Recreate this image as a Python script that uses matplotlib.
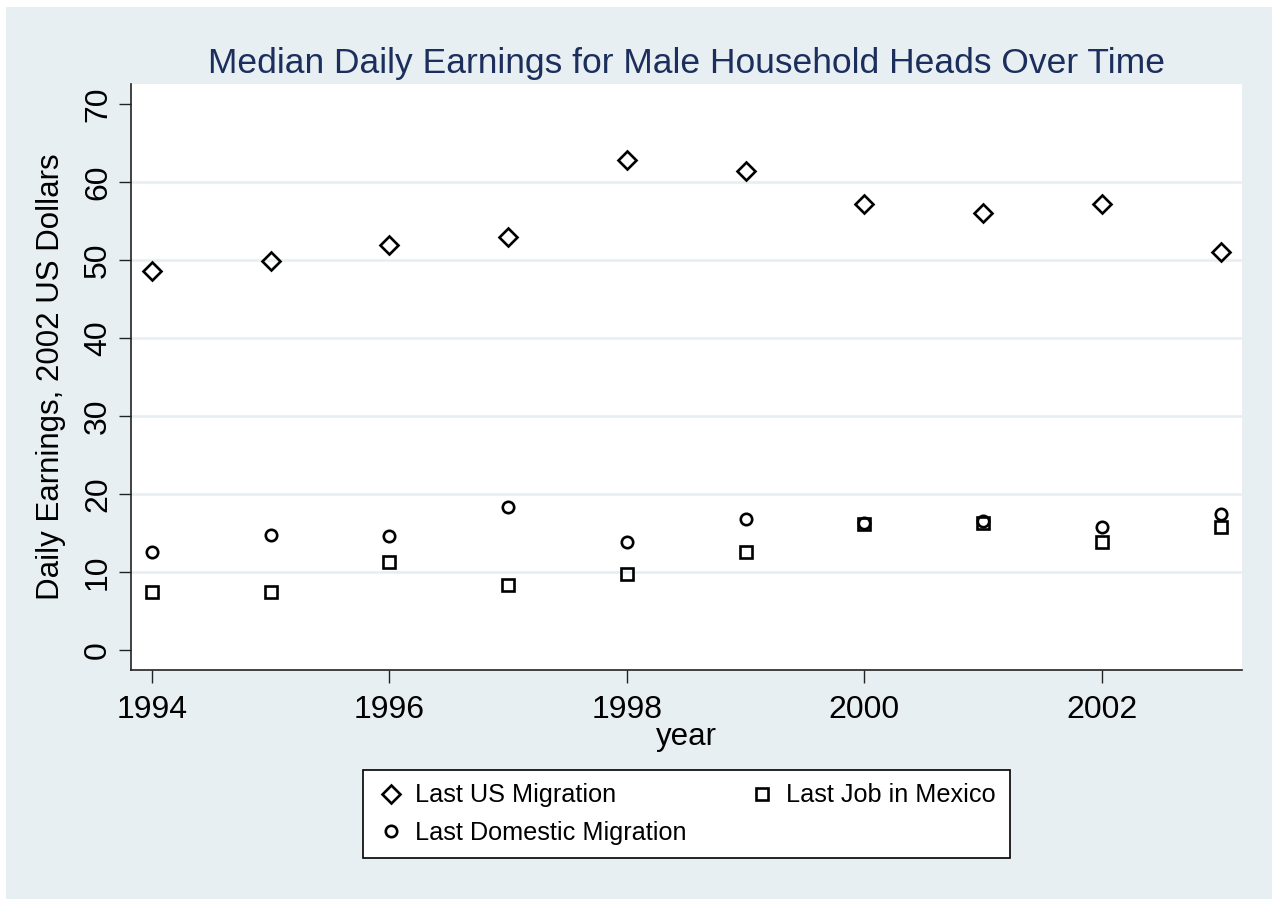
import matplotlib
matplotlib.use("Agg")
import matplotlib.pyplot as plt
from matplotlib.patches import Rectangle

plt.rcParams['font.family'] = ['Liberation Sans', 'DejaVu Sans']

years = [1994, 1995, 1996, 1997, 1998, 1999, 2000, 2001, 2002, 2003]
us_migration = [48.6, 49.9, 51.9, 53.0, 62.9, 61.5, 57.2, 56.1, 57.2, 51.0]
domestic_migration = [12.6, 14.7, 14.6, 18.4, 13.8, 16.8, 16.3, 16.6, 15.8, 17.5]
job_mexico = [7.5, 7.5, 11.3, 8.4, 9.8, 12.6, 16.2, 16.3, 13.9, 15.8]
xticks = [1994, 1996, 1998, 2000, 2002]
yticks = [0, 10, 20, 30, 40, 50, 60, 70]

BG = '#e8eff2'
GRID = '#e6eef1'
TITLE_C = '#1c2f5c'

fig = plt.figure(figsize=(12.72, 8.99), dpi=100, facecolor='white')
W, H = 1272, 899
fig.patches.append(Rectangle((6 / W, 0), 1 - 6 / W, 1 - 7 / H, transform=fig.transFigure,
                             facecolor=BG, edgecolor='none', zorder=-10))

ax = fig.add_axes([131 / W, 1 - 669.5 / H, (1242 - 131) / W, (669.5 - 84) / H])
ax.set_facecolor('white')
ax.set_xlim(1993.823, 2003.18)
ax.set_ylim(-2.5, 72.6)

for yv in yticks[1:-1]:
    ax.axhline(yv, color=GRID, lw=1.8, zorder=0)

ax.plot(years, us_migration, linestyle='none', marker='D', ms=9.5, mfc='none',
        mec='black', mew=1.9, label='Last US Migration', zorder=3)
ax.plot(years, domestic_migration, linestyle='none', marker='o', ms=8.2, mfc='none',
        mec='black', mew=1.9, label='Last Domestic Migration', zorder=3)
ax.plot(years, job_mexico, linestyle='none', marker='s', ms=8.8, mfc='none',
        mec='black', mew=1.9, label='Last Job in Mexico', zorder=3)

for s in ['top', 'right']:
    ax.spines[s].set_visible(False)
for s in ['left', 'bottom']:
    ax.spines[s].set_color('#222222')
    ax.spines[s].set_linewidth(1.2)

ax.set_xticks(xticks)
ax.set_yticks(yticks)
ax.tick_params(axis='both', direction='out', length=9, width=1.0, color='#222222',
               labelsize=23, labelcolor='black')
ax.tick_params(axis='x', pad=9)
ax.tick_params(axis='y', pad=4)
for lab in ax.get_yticklabels():
    lab.set_rotation(90)
    lab.set_va('center')

ax.set_xlabel('year', fontsize=22.5, labelpad=-2)
ax.set_ylabel('Daily Earnings, 2002 US Dollars', fontsize=22.5, labelpad=12)
ax.set_title('Median Daily Earnings for Male Household Heads Over Time',
             fontsize=25.5, color=TITLE_C, pad=8)

leg = fig.legend(loc='center', bbox_to_anchor=(686.5 / W, 1 - 814 / H), ncol=2,
                 fontsize=18.2, frameon=True, fancybox=False, edgecolor='black',
                 framealpha=1, handletextpad=0.4, columnspacing=2.45, borderpad=0.55,
                 labelspacing=0.52, handlelength=1.1)
leg.get_frame().set_linewidth(1.2)
leg.get_frame().set_facecolor('white')

fig.savefig('out.png', dpi=100, facecolor=fig.get_facecolor())
